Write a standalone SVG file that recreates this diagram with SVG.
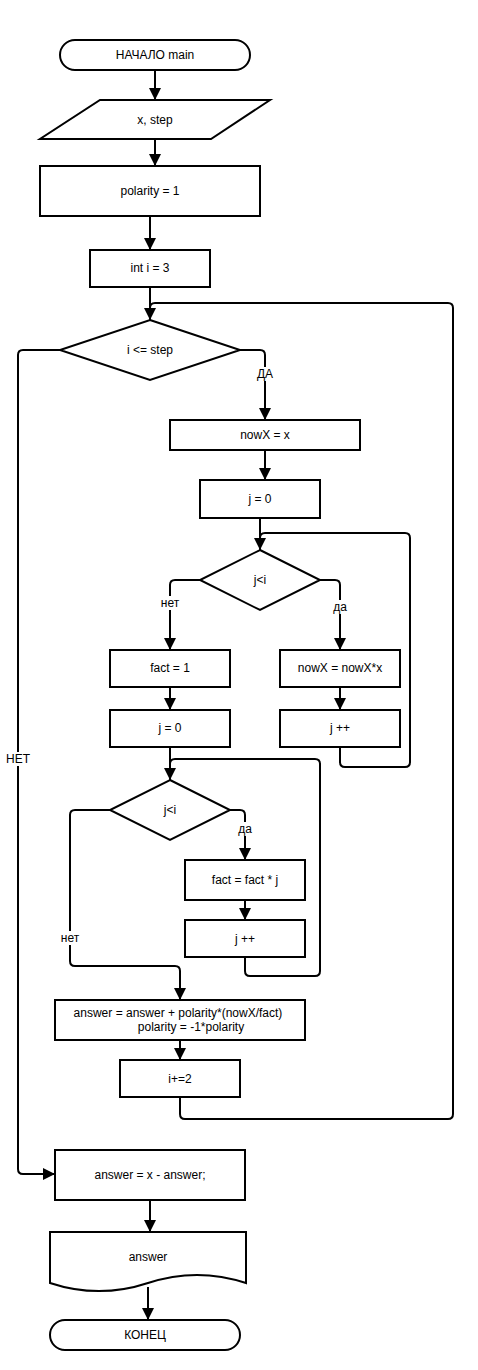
<svg xmlns="http://www.w3.org/2000/svg" width="478" height="1370" viewBox="0 0 478 1370">
<style>
.s{fill:#fff;stroke:#000;stroke-width:2}
.c{fill:none;stroke:#000;stroke-width:2}
.t{font-family:"Liberation Sans",Arial,sans-serif;font-size:12px;fill:#000;text-anchor:middle}
.lb{fill:#fff;stroke:none}
</style>
<defs>
<marker id="a" markerUnits="userSpaceOnUse" markerWidth="14" markerHeight="14" refX="12" refY="6" orient="auto">
<path d="M0,0 L12,6 L0,12 Z" fill="#000"/>
</marker>
</defs>
<rect width="478" height="1370" fill="#fff"/>
<g id="connectors">
<path class="c" d="M155,70 V100" marker-end="url(#a)"/>
<path class="c" d="M155,139 V166" marker-end="url(#a)"/>
<path class="c" d="M150,216 V250" marker-end="url(#a)"/>
<path class="c" d="M150,287 V320" marker-end="url(#a)"/>
<path class="c" d="M180,1097 V1114 Q180,1119 185,1119 H448 Q453,1119 453,1114 V308 Q453,303 448,303 H155 Q150,303 150,308"/>
<path class="c" d="M240,350 H260 Q265,350 265,355 V420" marker-end="url(#a)"/>
<path class="c" d="M60,350 H23 Q18,350 18,355 V1169 Q18,1174 23,1174 H55" marker-end="url(#a)"/>
<path class="c" d="M265,450 V480" marker-end="url(#a)"/>
<path class="c" d="M260,518 V550" marker-end="url(#a)"/>
<path class="c" d="M340,747 V762 Q340,767 345,767 H405 Q410,767 410,762 V538 Q410,533 405,533 H265 Q260,533 260,538"/>
<path class="c" d="M200,580 H175 Q170,580 170,585 V650" marker-end="url(#a)"/>
<path class="c" d="M320,580 H335 Q340,580 340,585 V650" marker-end="url(#a)"/>
<path class="c" d="M170,687 V710" marker-end="url(#a)"/>
<path class="c" d="M340,687 V710" marker-end="url(#a)"/>
<path class="c" d="M170,747 V780" marker-end="url(#a)"/>
<path class="c" d="M245,957 V971 Q245,976 250,976 H315 Q320,976 320,971 V764 Q320,759 315,759 H175 Q170,759 170,764"/>
<path class="c" d="M230,810 H240 Q245,810 245,815 V860" marker-end="url(#a)"/>
<path class="c" d="M110,810 H75 Q70,810 70,815 V961 Q70,966 75,966 H175 Q180,966 180,971 V1000" marker-end="url(#a)"/>
<path class="c" d="M245,900 V920" marker-end="url(#a)"/>
<path class="c" d="M180,1040 V1060" marker-end="url(#a)"/>
<path class="c" d="M150,1200 V1232" marker-end="url(#a)"/>
<path class="c" d="M148,1287 V1320" marker-end="url(#a)"/>
<rect class="lb" x="255" y="367" width="20" height="14"/>
<text class="t" x="265" y="378">ДА</text>
<rect class="lb" x="5" y="752" width="26" height="14"/>
<text class="t" x="18" y="763">НЕТ</text>
<rect class="lb" x="159" y="596" width="22" height="14"/>
<text class="t" x="170" y="607">нет</text>
<rect class="lb" x="331" y="600" width="18" height="14"/>
<text class="t" x="340" y="611">да</text>
<rect class="lb" x="236" y="822" width="18" height="14"/>
<text class="t" x="245" y="833">да</text>
<rect class="lb" x="59" y="931" width="22" height="14"/>
<text class="t" x="70" y="942">нет</text>
</g>
<g id="start"><rect class="s" x="60" y="40" width="190" height="30" rx="15"/><text class="t" x="155" y="59">НАЧАЛО main</text></g>
<g id="input"><path class="s" d="M100,100 H270 L211,139 H40 Z"/><text class="t" x="155" y="124">x, step</text></g>
<g id="polarity"><rect class="s" x="40" y="166" width="220" height="50"/><text class="t" x="150" y="195">polarity = 1</text></g>
<g id="initI"><rect class="s" x="90" y="250" width="120" height="37"/><text class="t" x="150" y="272">int i = 3</text></g>
<g id="cond1"><path class="s" d="M150,320 L240,350 L150,380 L60,350 Z"/><text class="t" x="150" y="354">i &lt;= step</text></g>
<g id="nowX"><rect class="s" x="170" y="420" width="190" height="30"/><text class="t" x="265" y="439">nowX = x</text></g>
<g id="j0a"><rect class="s" x="200" y="480" width="120" height="38"/><text class="t" x="260" y="503">j = 0</text></g>
<g id="cond2"><path class="s" d="M260,550 L320,580 L260,610 L200,580 Z"/><text class="t" x="260" y="584">j&lt;i</text></g>
<g id="fact1"><rect class="s" x="110" y="650" width="120" height="37"/><text class="t" x="170" y="672">fact = 1</text></g>
<g id="nowXmul"><rect class="s" x="280" y="650" width="120" height="37"/><text class="t" x="340" y="672">nowX = nowX*x</text></g>
<g id="j0b"><rect class="s" x="110" y="710" width="120" height="37"/><text class="t" x="170" y="732">j = 0</text></g>
<g id="jinc1"><rect class="s" x="280" y="710" width="120" height="37"/><text class="t" x="340" y="732">j ++</text></g>
<g id="cond3"><path class="s" d="M170,780 L230,810 L170,840 L110,810 Z"/><text class="t" x="170" y="814">j&lt;i</text></g>
<g id="factmul"><rect class="s" x="185" y="860" width="120" height="40"/><text class="t" x="245" y="884">fact = fact * j</text></g>
<g id="jinc2"><rect class="s" x="185" y="920" width="120" height="37"/><text class="t" x="245" y="943">j ++</text></g>
<g id="answerCalc"><rect class="s" x="55" y="1000" width="250" height="40"/><text class="t" x="178" y="1017">answer = answer + polarity*(nowX/fact)</text><text class="t" x="191" y="1031">polarity = -1*polarity</text></g>
<g id="iinc"><rect class="s" x="120" y="1060" width="120" height="37"/><text class="t" x="180" y="1083">i+=2</text></g>
<g id="answerFinal"><rect class="s" x="55" y="1150" width="190" height="50"/><text class="t" x="150" y="1179">answer = x - answer;</text></g>
<g id="output"><path class="s" d="M50,1232 H246 V1283 Q197,1266.8 148,1283 Q99,1299.2 50,1283 Z"/><text class="t" x="148" y="1261">answer</text></g>
<g id="end"><rect class="s" x="50" y="1320" width="190" height="30" rx="15"/><text class="t" x="145" y="1339">КОНЕЦ</text></g>
</svg>
